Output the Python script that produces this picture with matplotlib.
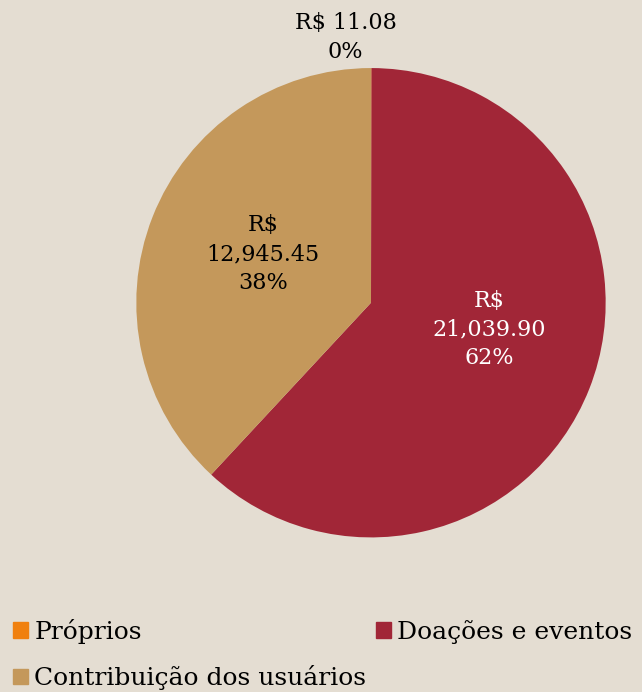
import math
import matplotlib.pyplot as plt
from matplotlib.patches import Patch

# Data
categories = ["Próprios", "Doações e eventos", "Contribuição dos usuários"]
values = [11.08, 21039.90, 12945.45]
colors = ["#F0800F", "#A12637", "#C4985B"]
text_colors = ["black", "white", "black"]

bg = "#E4DDD2"
plt.rcParams['font.family'] = ['DejaVu Serif']

fig = plt.figure(figsize=(6.42, 6.92), dpi=100, facecolor=bg)
ax = fig.add_axes([0.0, 0.22, 1.0, 0.78])
ax.set_facecolor(bg)

total = sum(values)
wedges, _ = ax.pie(values, colors=colors, startangle=90, counterclock=False,
                   radius=1.0, center=(0, 0))
ax.set_xlim(-1.579, 1.153)
ax.set_ylim(-1.01, 1.29)
ax.set_aspect('equal')
ax.axis('off')

# Labels: radius along the bisector plus a small nudge
label_r = [1.13, 0.5, 0.5]
nudge = [(-0.11, 0.0), (0.04, 0.07), (0.006, 0.025)]
for w, v, r, tc, (dx, dy) in zip(wedges, values, label_r, text_colors, nudge):
    ang = math.radians((w.theta1 + w.theta2) / 2)
    x, y = r * math.cos(ang) + dx, r * math.sin(ang) + dy
    pct = "%d%%" % round(v / total * 100)
    money = "{:,.2f}".format(v)
    if r > 1:
        txt = "R$ %s\n%s" % (money, pct)
    else:
        txt = "R$\n%s\n%s" % (money, pct)
    ax.text(x, y, txt, ha='center', va='center', color=tc, fontsize=16,
            linespacing=1.4)

# Legend (column-major order so rows read Próprios, Doações / Contribuição)
handles = [Patch(color=c, label=l) for c, l in zip(colors, categories)]
order = [0, 2, 1]
fig.legend([handles[i] for i in order], [categories[i] for i in order],
           loc='lower left', bbox_to_anchor=(0.005, -0.012, 0.995, 0.16),
           mode='expand', ncol=2, frameon=False, fontsize=18,
           handlelength=0.6, handleheight=0.6, handletextpad=0.25,
           labelspacing=0.85, borderaxespad=0.0)

fig.savefig("out.png", dpi=100, facecolor=bg)
